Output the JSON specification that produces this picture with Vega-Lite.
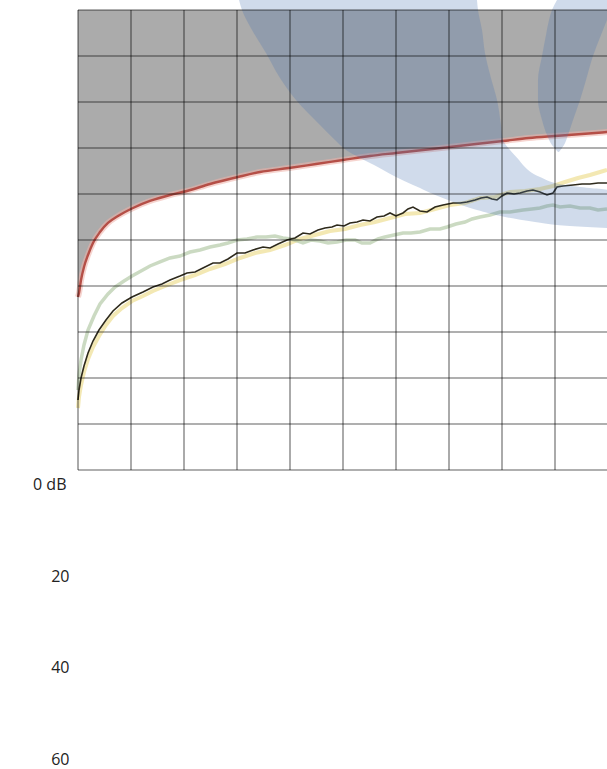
{
  "$schema": "https://vega.github.io/schema/vega-lite/v6.json",
  "background": "white",
  "padding": {"left": 32, "top": 0, "right": 0, "bottom": 0},
  "bounds": "flush",
  "spacing": 14.5,
  "config": {"view": {"stroke": null}, "font": "Open Sans"},
  "resolve": {"scale": {"x": "independent", "y": "independent"}},
  "datasets": {
    "threshold": [
      {"x": 0, "y": 3.761}, {"x": 0.019, "y": 3.848}, {"x": 0.057, "y": 4.13}, {"x": 0.113, "y": 4.413},
      {"x": 0.189, "y": 4.674}, {"x": 0.283, "y": 4.935}, {"x": 0.415, "y": 5.174}, {"x": 0.566, "y": 5.37},
      {"x": 0.755, "y": 5.522}, {"x": 1.038, "y": 5.696}, {"x": 1.358, "y": 5.848}, {"x": 1.736, "y": 5.978},
      {"x": 2.057, "y": 6.065}, {"x": 2.491, "y": 6.217}, {"x": 3.019, "y": 6.37}, {"x": 3.434, "y": 6.478},
      {"x": 3.981, "y": 6.565}, {"x": 4.491, "y": 6.652}, {"x": 5.0, "y": 6.739}, {"x": 5.509, "y": 6.826},
      {"x": 6.0, "y": 6.891}, {"x": 6.509, "y": 6.957}, {"x": 7.019, "y": 7.022}, {"x": 7.509, "y": 7.087},
      {"x": 8.019, "y": 7.152}, {"x": 8.509, "y": 7.217}, {"x": 9.0, "y": 7.261}, {"x": 9.509, "y": 7.304},
      {"x": 10, "y": 7.348}
    ],
    "black": [
      {"x": 0, "y": 1.522}, {"x": 0.019, "y": 1.739}, {"x": 0.057, "y": 2.0}, {"x": 0.113, "y": 2.261},
      {"x": 0.189, "y": 2.543}, {"x": 0.283, "y": 2.804}, {"x": 0.396, "y": 3.043}, {"x": 0.528, "y": 3.261},
      {"x": 0.66, "y": 3.457}, {"x": 0.83, "y": 3.63}, {"x": 1.019, "y": 3.761}, {"x": 1.226, "y": 3.87},
      {"x": 1.415, "y": 3.978}, {"x": 1.585, "y": 4.043}, {"x": 1.736, "y": 4.13}, {"x": 1.925, "y": 4.217},
      {"x": 2.057, "y": 4.283}, {"x": 2.208, "y": 4.304}, {"x": 2.358, "y": 4.391}, {"x": 2.547, "y": 4.5},
      {"x": 2.679, "y": 4.5}, {"x": 2.83, "y": 4.587}, {"x": 3.0, "y": 4.717}, {"x": 3.151, "y": 4.717},
      {"x": 3.302, "y": 4.783}, {"x": 3.491, "y": 4.848}, {"x": 3.623, "y": 4.826}, {"x": 3.774, "y": 4.913},
      {"x": 3.943, "y": 5.0}, {"x": 4.094, "y": 5.043}, {"x": 4.245, "y": 5.152}, {"x": 4.377, "y": 5.13},
      {"x": 4.528, "y": 5.217}, {"x": 4.66, "y": 5.261}, {"x": 4.792, "y": 5.283}, {"x": 4.887, "y": 5.326},
      {"x": 5.019, "y": 5.304}, {"x": 5.132, "y": 5.37}, {"x": 5.264, "y": 5.391}, {"x": 5.377, "y": 5.435},
      {"x": 5.509, "y": 5.413}, {"x": 5.642, "y": 5.5}, {"x": 5.774, "y": 5.522}, {"x": 5.887, "y": 5.587},
      {"x": 6.0, "y": 5.522}, {"x": 6.132, "y": 5.587}, {"x": 6.226, "y": 5.674}, {"x": 6.321, "y": 5.717},
      {"x": 6.453, "y": 5.63}, {"x": 6.585, "y": 5.609}, {"x": 6.736, "y": 5.717}, {"x": 6.887, "y": 5.761},
      {"x": 6.981, "y": 5.783}, {"x": 7.075, "y": 5.804}, {"x": 7.208, "y": 5.804}, {"x": 7.34, "y": 5.826},
      {"x": 7.491, "y": 5.87}, {"x": 7.604, "y": 5.913}, {"x": 7.717, "y": 5.935}, {"x": 7.811, "y": 5.891},
      {"x": 7.906, "y": 5.87}, {"x": 8.0, "y": 5.957}, {"x": 8.094, "y": 6.022}, {"x": 8.226, "y": 6.0},
      {"x": 8.34, "y": 6.022}, {"x": 8.472, "y": 6.065}, {"x": 8.585, "y": 6.087}, {"x": 8.717, "y": 6.043},
      {"x": 8.849, "y": 5.978}, {"x": 8.962, "y": 6.022}, {"x": 9.038, "y": 6.152}, {"x": 9.151, "y": 6.174},
      {"x": 9.34, "y": 6.196}, {"x": 9.509, "y": 6.217}, {"x": 9.66, "y": 6.217}, {"x": 9.811, "y": 6.239},
      {"x": 9.981, "y": 6.239}
    ],
    "green": [
      {"x": 0, "y": 1.739}, {"x": 0.019, "y": 2.065}, {"x": 0.057, "y": 2.391}, {"x": 0.113, "y": 2.717},
      {"x": 0.189, "y": 3.043}, {"x": 0.302, "y": 3.348}, {"x": 0.415, "y": 3.609}, {"x": 0.566, "y": 3.826},
      {"x": 0.698, "y": 3.978}, {"x": 0.868, "y": 4.109}, {"x": 1.019, "y": 4.217}, {"x": 1.189, "y": 4.326},
      {"x": 1.358, "y": 4.435}, {"x": 1.547, "y": 4.522}, {"x": 1.736, "y": 4.609}, {"x": 1.925, "y": 4.652},
      {"x": 2.113, "y": 4.739}, {"x": 2.302, "y": 4.783}, {"x": 2.491, "y": 4.848}, {"x": 2.679, "y": 4.891},
      {"x": 2.83, "y": 4.935}, {"x": 3.0, "y": 5.0}, {"x": 3.189, "y": 5.022}, {"x": 3.377, "y": 5.065},
      {"x": 3.547, "y": 5.065}, {"x": 3.717, "y": 5.087}, {"x": 3.868, "y": 5.043}, {"x": 4.019, "y": 5.022},
      {"x": 4.151, "y": 4.978}, {"x": 4.245, "y": 4.935}, {"x": 4.396, "y": 5.0}, {"x": 4.566, "y": 4.978},
      {"x": 4.717, "y": 4.935}, {"x": 4.887, "y": 4.957}, {"x": 5.057, "y": 5.0}, {"x": 5.226, "y": 5.0},
      {"x": 5.358, "y": 4.935}, {"x": 5.509, "y": 4.935}, {"x": 5.66, "y": 5.022}, {"x": 5.792, "y": 5.065},
      {"x": 5.962, "y": 5.109}, {"x": 6.132, "y": 5.152}, {"x": 6.283, "y": 5.152}, {"x": 6.453, "y": 5.174},
      {"x": 6.642, "y": 5.239}, {"x": 6.83, "y": 5.239}, {"x": 6.962, "y": 5.283}, {"x": 7.132, "y": 5.348},
      {"x": 7.302, "y": 5.391}, {"x": 7.434, "y": 5.457}, {"x": 7.585, "y": 5.5}, {"x": 7.774, "y": 5.543},
      {"x": 7.962, "y": 5.609}, {"x": 8.151, "y": 5.609}, {"x": 8.396, "y": 5.652}, {"x": 8.566, "y": 5.674},
      {"x": 8.717, "y": 5.696}, {"x": 8.849, "y": 5.739}, {"x": 8.962, "y": 5.761}, {"x": 9.094, "y": 5.717},
      {"x": 9.283, "y": 5.739}, {"x": 9.472, "y": 5.696}, {"x": 9.66, "y": 5.696}, {"x": 9.811, "y": 5.652},
      {"x": 9.981, "y": 5.674}
    ],
    "yellow": [
      {"x": 0, "y": 1.348}, {"x": 0.019, "y": 1.587}, {"x": 0.057, "y": 1.848}, {"x": 0.113, "y": 2.13},
      {"x": 0.189, "y": 2.413}, {"x": 0.283, "y": 2.674}, {"x": 0.396, "y": 2.913}, {"x": 0.528, "y": 3.152},
      {"x": 0.66, "y": 3.348}, {"x": 0.83, "y": 3.522}, {"x": 1.019, "y": 3.674}, {"x": 1.226, "y": 3.783},
      {"x": 1.415, "y": 3.891}, {"x": 1.642, "y": 4.0}, {"x": 1.925, "y": 4.13}, {"x": 2.208, "y": 4.239},
      {"x": 2.491, "y": 4.37}, {"x": 2.774, "y": 4.478}, {"x": 3.057, "y": 4.609}, {"x": 3.34, "y": 4.717},
      {"x": 3.623, "y": 4.783}, {"x": 3.906, "y": 4.891}, {"x": 4.189, "y": 5.022}, {"x": 4.472, "y": 5.109},
      {"x": 4.755, "y": 5.196}, {"x": 5.038, "y": 5.239}, {"x": 5.321, "y": 5.326}, {"x": 5.604, "y": 5.391},
      {"x": 5.887, "y": 5.478}, {"x": 6.17, "y": 5.565}, {"x": 6.453, "y": 5.587}, {"x": 6.736, "y": 5.674},
      {"x": 7.019, "y": 5.761}, {"x": 7.302, "y": 5.804}, {"x": 7.585, "y": 5.913}, {"x": 7.868, "y": 5.935},
      {"x": 8.151, "y": 6.043}, {"x": 8.434, "y": 6.065}, {"x": 8.717, "y": 6.109}, {"x": 8.962, "y": 6.174},
      {"x": 9.189, "y": 6.261}, {"x": 9.434, "y": 6.348}, {"x": 9.66, "y": 6.413}, {"x": 9.849, "y": 6.478},
      {"x": 9.981, "y": 6.522}
    ],
    "bandA": [
      {"y": 10.217, "xl": 3.038, "xr": 7.528}, {"y": 10.0, "xl": 3.094, "xr": 7.547},
      {"y": 9.565, "xl": 3.283, "xr": 7.623}, {"y": 9.065, "xl": 3.547, "xr": 7.679},
      {"y": 8.522, "xl": 3.811, "xr": 7.792}, {"y": 8.043, "xl": 4.113, "xr": 7.906},
      {"y": 7.5, "xl": 4.566, "xr": 7.981}, {"y": 7.174, "xl": 4.849, "xr": 8.019},
      {"y": 6.957, "xl": 5.057, "xr": 8.151}, {"y": 6.739, "xl": 5.396, "xr": 8.321},
      {"y": 6.63, "xl": 5.585, "xr": 8.396}, {"y": 6.37, "xl": 6.0, "xr": 8.717},
      {"y": 6.196, "xl": 6.321, "xr": 9.189}, {"y": 6.13, "xl": 6.453, "xr": 9.66},
      {"y": 6.087, "xl": 6.528, "xr": 10}, {"y": 5.87, "xl": 6.981, "xr": 10},
      {"y": 5.652, "xl": 7.528, "xr": 10}, {"y": 5.5, "xl": 8.057, "xr": 10},
      {"y": 5.391, "xl": 8.623, "xr": 10}, {"y": 5.304, "xl": 9.283, "xr": 10},
      {"y": 5.261, "xl": 10, "xr": 10}
    ],
    "bandB": [
      {"y": 10.217, "xl": 9.038, "xr": 10.132}, {"y": 10.0, "xl": 8.943, "xr": 10.057},
      {"y": 9.783, "xl": 8.887, "xr": 9.981}, {"y": 9.457, "xl": 8.83, "xr": 9.868},
      {"y": 9.0, "xl": 8.755, "xr": 9.717}, {"y": 8.478, "xl": 8.679, "xr": 9.585},
      {"y": 8.043, "xl": 8.679, "xr": 9.472}, {"y": 7.609, "xl": 8.755, "xr": 9.34},
      {"y": 7.283, "xl": 8.849, "xr": 9.245}, {"y": 7.065, "xl": 8.943, "xr": 9.17},
      {"y": 6.913, "xl": 9.057, "xr": 9.075}
    ],
    "columns": [
      {"x": 0}, {"x": 1}, {"x": 2}, {"x": 3}, {"x": 4}, {"x": 5},
      {"x": 6}, {"x": 7}, {"x": 8}, {"x": 9}, {"x": 10}
    ],
    "rows": [
      {"y": 0}, {"y": 1}, {"y": 2}, {"y": 3}, {"y": 4}, {"y": 5},
      {"y": 6}, {"y": 7}, {"y": 8}, {"y": 9}, {"y": 10}
    ],
    "levels": [{"level": 0}, {"level": 20}, {"level": 40}, {"level": 60}]
  },
  "vconcat": [
    {
      "width": 530,
      "height": 460,
      "layer": [
        {
          "data": {"name": "threshold"},
          "mark": {"type": "area", "color": "#ababab", "opacity": 1, "interpolate": "monotone"},
          "encoding": {
            "x": {"field": "x", "type": "quantitative", "scale": {"domain": [0, 10], "nice": false, "zero": false}, "axis": null},
            "y": {"field": "y", "type": "quantitative", "scale": {"domain": [0, 10], "nice": false, "zero": false}, "axis": null},
            "y2": {"datum": 10}
          }
        },
        {
          "data": {"name": "yellow"},
          "mark": {"type": "line", "color": "#efe09a", "strokeWidth": 4, "opacity": 0.75},
          "encoding": {
            "x": {"field": "x", "type": "quantitative"},
            "y": {"field": "y", "type": "quantitative"}
          }
        },
        {
          "data": {"name": "green"},
          "mark": {"type": "line", "color": "#a9c29a", "strokeWidth": 3.5, "opacity": 0.6},
          "encoding": {
            "x": {"field": "x", "type": "quantitative"},
            "y": {"field": "y", "type": "quantitative"}
          }
        },
        {
          "data": {"name": "black"},
          "mark": {"type": "line", "color": "#2e2a1c", "strokeWidth": 1.6},
          "encoding": {
            "x": {"field": "x", "type": "quantitative"},
            "y": {"field": "y", "type": "quantitative"}
          }
        },
        {
          "data": {"name": "threshold"},
          "mark": {"type": "line", "color": "#eeb1a8", "strokeWidth": 6, "opacity": 0.55, "interpolate": "monotone"},
          "encoding": {
            "x": {"field": "x", "type": "quantitative"},
            "y": {"field": "y", "type": "quantitative"}
          }
        },
        {
          "data": {"name": "threshold"},
          "mark": {"type": "line", "color": "#b54f47", "strokeWidth": 2.4, "interpolate": "monotone"},
          "encoding": {
            "x": {"field": "x", "type": "quantitative"},
            "y": {"field": "y", "type": "quantitative"}
          }
        },
        {
          "data": {"name": "bandA"},
          "mark": {"type": "area", "orient": "horizontal", "color": "#4a72b0", "opacity": 0.26, "interpolate": "monotone"},
          "encoding": {
            "y": {"field": "y", "type": "quantitative"},
            "x": {"field": "xl", "type": "quantitative"},
            "x2": {"field": "xr"}
          }
        },
        {
          "data": {"name": "bandB"},
          "mark": {"type": "area", "orient": "horizontal", "color": "#4a72b0", "opacity": 0.26, "interpolate": "monotone"},
          "encoding": {
            "y": {"field": "y", "type": "quantitative"},
            "x": {"field": "xl", "type": "quantitative"},
            "x2": {"field": "xr"}
          }
        },
        {
          "data": {"name": "columns"},
          "mark": {"type": "rule", "color": "#000000", "strokeWidth": 1.6, "opacity": 0.42},
          "encoding": {"x": {"field": "x", "type": "quantitative"}}
        },
        {
          "data": {"name": "rows"},
          "mark": {"type": "rule", "color": "#000000", "strokeWidth": 1.6, "opacity": 0.42},
          "encoding": {"y": {"field": "y", "type": "quantitative"}}
        }
      ]
    },
    {
      "width": 530,
      "height": 274.5,
      "data": {"name": "levels"},
      "mark": {"type": "point", "opacity": 0},
      "encoding": {
        "y": {
          "field": "level",
          "type": "quantitative",
          "scale": {"domain": [0, 60], "reverse": true, "nice": false, "zero": false},
          "axis": {
            "values": [0, 20, 40, 60],
            "labelExpr": "datum.value === 0 ? '0 dB' : datum.label",
            "domain": false,
            "ticks": false,
            "tickSize": 0,
            "grid": false,
            "labelPadding": {"condition": {"test": "datum.value === 0", "value": 12}, "value": 9},
            "labelFont": "Open Sans",
            "labelFontSize": 16,
            "labelColor": "#222222",
            "title": null
          }
        }
      }
    }
  ]
}
